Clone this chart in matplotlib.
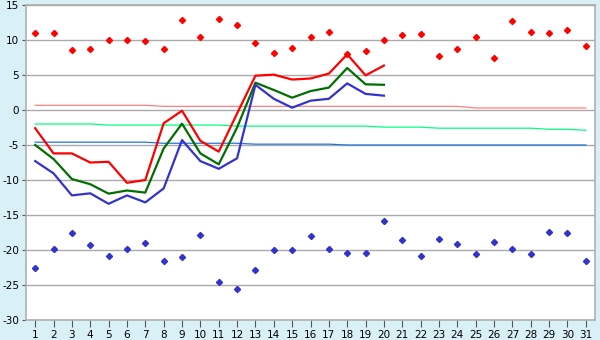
import matplotlib
matplotlib.use("Agg")
import matplotlib.pyplot as plt

plt.rcParams["axes.unicode_minus"] = False

days = list(range(1, 32))
line_days = list(range(1, 21))

# daily extremes (diamonds)
max_points = [11.0, 11.0, 8.5, 8.7, 10.0, 10.0, 9.8, 8.7, 12.8, 10.4, 12.95,
              12.1, 9.6, 8.2, 8.8, 10.4, 11.2, 7.95, 8.4, 10.0, 10.7, 10.8,
              7.7, 8.7, 10.4, 7.4, 12.7, 11.1, 10.95, 11.4, 9.2]
min_points = [-22.5, -19.9, -17.6, -19.3, -20.8, -19.8, -19.05, -21.5, -21.0,
              -17.8, -24.6, -25.6, -22.8, -20.05, -20.05, -18.05, -19.9, -20.5,
              -20.5, -15.9, -18.6, -20.8, -18.5, -19.2, -20.6, -18.8, -19.9,
              -20.6, -17.5, -17.6, -21.6]

# current month (days 1-20)
high_line = [-2.6, -6.2, -6.2, -7.5, -7.4, -10.4, -10.0, -1.9, -0.1, -4.4,
             -5.95, -0.5, 4.9, 5.05, 4.35, 4.5, 5.2, 7.95, 4.95, 6.35]
mean_line = [-5.0, -7.0, -9.86, -10.6, -11.95, -11.5, -11.8, -5.5, -1.95, -6.2,
             -7.76, -2.5, 3.9, 2.86, 1.76, 2.7, 3.2, 6.0, 3.67, 3.6]
low_line = [-7.3, -9.05, -12.2, -11.9, -13.4, -12.2, -13.2, -11.2, -4.3, -7.3,
            -8.4, -6.9, 3.6, 1.6, 0.33, 1.33, 1.6, 3.8, 2.3, 2.05]

# climate norms
norm_high = [0.67] * 7 + [0.52] * 17 + [0.29] * 7
norm_mean = [-2.0] * 4 + [-2.15] * 7 + [-2.3] * 8 + [-2.45] * 3 + [-2.6] * 6 + [-2.75] * 2 + [-2.9]
norm_low = [-4.6] * 7 + [-4.75] * 5 + [-4.88] * 5 + [-5.0] * 14

fig = plt.figure(figsize=(6, 3.4), dpi=100, facecolor="#DAF0F7")
ax = fig.add_axes([26 / 600, 20 / 340, 569 / 600, 315 / 340])
ax.set_facecolor("white")

ax.set_xlim(0.5, 31.5)
ax.set_ylim(-30, 15)
ax.set_xticks(days)
ax.set_yticks(range(-30, 16, 5))
ax.grid(axis="y", color="#AAAAAA", linewidth=1.0)
ax.set_axisbelow(True)
for side in ["left", "bottom", "right", "top"]:
    ax.spines[side].set_color("#AAAAAA")
    ax.spines[side].set_linewidth(1.1)
ax.tick_params(axis="x", length=5, color="#555555", labelsize=7.5, pad=2)
ax.tick_params(axis="y", length=3, color="#555555", labelsize=7.5, pad=2)

ax.plot(days, norm_high, color="#FF8080", linewidth=0.9)
ax.plot(days, norm_mean, color="#00FF80", linewidth=0.9)
ax.plot(days, norm_low, color="#1E78DC", linewidth=0.9)

ax.plot(line_days, high_line, color="#FF0000", linewidth=1.6)
ax.plot(line_days, mean_line, color="#006F00", linewidth=1.6)
ax.plot(line_days, low_line, color="#3333CC", linewidth=1.6)

ax.plot(days, max_points, linestyle="none", marker="D", markersize=3.1,
        color="#FF0000")
ax.plot(days, min_points, linestyle="none", marker="D", markersize=3.1,
        color="#3333CC")

fig.savefig("out.png", dpi=100, facecolor=fig.get_facecolor())
